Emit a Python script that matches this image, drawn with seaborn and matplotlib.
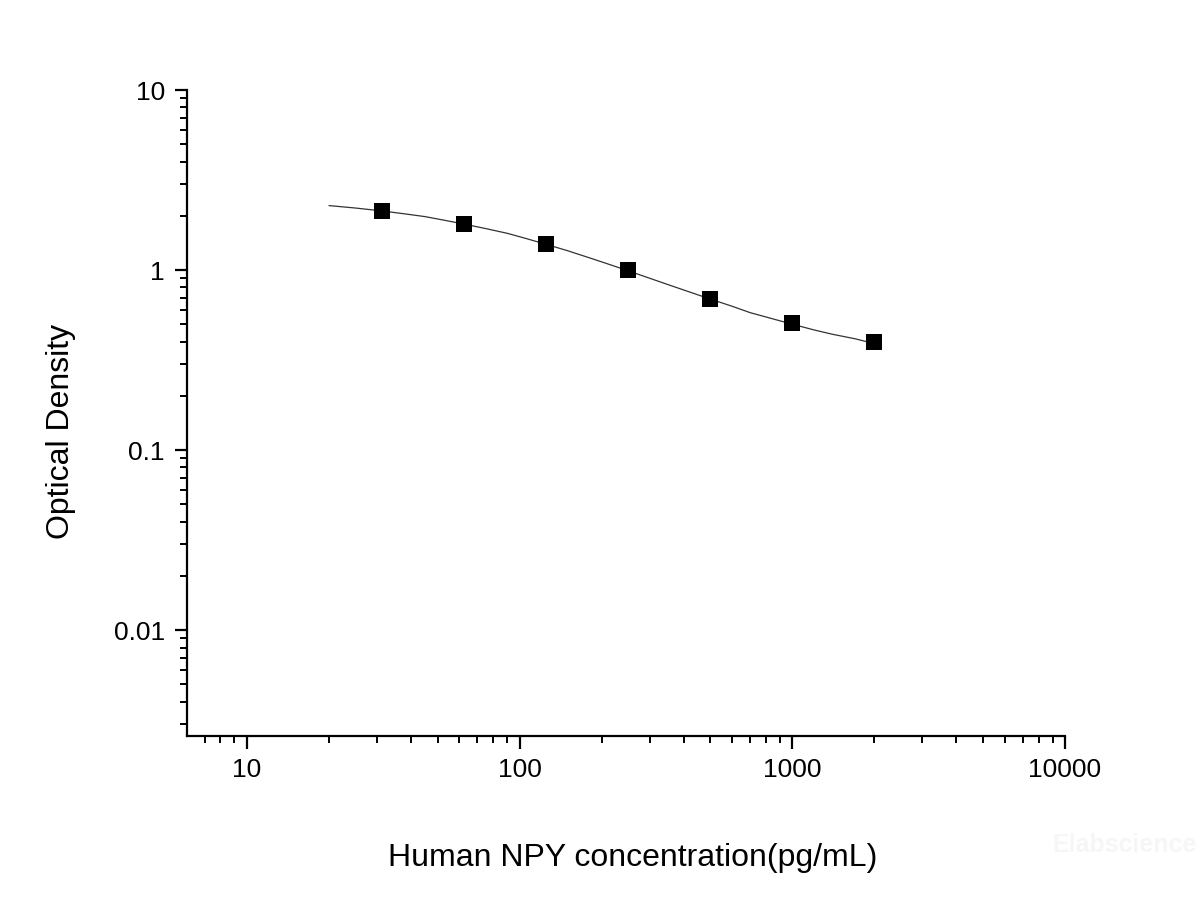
import matplotlib
matplotlib.use("Agg")
import matplotlib.pyplot as plt
import matplotlib.ticker as mticker
import seaborn as sns
import pandas as pd

# Standard points
conc = [31.25, 62.5, 125, 250, 500, 1000, 2000]
od = [2.13, 1.80, 1.39, 1.00, 0.69, 0.508, 0.398]

# Fitted curve
curve_x = [20, 25, 31.25, 38, 45, 53, 62.5, 75, 90, 105, 125, 150, 180, 215, 250,
           300, 350, 420, 500, 600, 700, 850, 1000, 1200, 1400, 1700, 2000]
curve_y = [2.28, 2.21, 2.13, 2.05, 1.98, 1.89, 1.80, 1.70, 1.60, 1.50, 1.39, 1.28,
           1.17, 1.07, 0.99, 0.90, 0.83, 0.755, 0.69, 0.63, 0.58, 0.535, 0.50,
           0.465, 0.44, 0.415, 0.39]

x_ticks = [10, 100, 1000, 10000]
x_tick_labels = ["10", "100", "1000", "10000"]
y_ticks = [0.01, 0.1, 1, 10]
y_tick_labels = ["0.01", "0.1", "1", "10"]

sns.set_theme(style="ticks")
plt.rcParams['font.family'] = ['Liberation Sans', 'DejaVu Sans']
plt.rcParams['text.color'] = 'black'
plt.rcParams['axes.labelcolor'] = 'black'

fig = plt.figure(figsize=(12, 9), dpi=100)
ax = fig.add_axes([187/1200, 1 - 736/900, (1065-187)/1200, (736-90)/900])

df_curve = pd.DataFrame({"x": curve_x, "y": curve_y})
df_pts = pd.DataFrame({"x": conc, "y": od})

sns.lineplot(data=df_curve, x="x", y="y", ax=ax, color="#333333", linewidth=0.9)
sns.scatterplot(data=df_pts, x="x", y="y", ax=ax, marker="s", s=135,
                color="black", edgecolor="none", zorder=3)

ax.set_xscale("log")
ax.set_yscale("log")
ax.set_xlim(6.03, 10000)
ax.set_ylim(0.00258, 10)

ax.xaxis.set_major_locator(mticker.FixedLocator(x_ticks))
ax.xaxis.set_major_formatter(mticker.FixedFormatter(x_tick_labels))
ax.yaxis.set_major_locator(mticker.FixedLocator(y_ticks))
ax.yaxis.set_major_formatter(mticker.FixedFormatter(y_tick_labels))
ax.xaxis.set_minor_locator(mticker.LogLocator(base=10, subs=range(2, 10), numticks=20))
ax.yaxis.set_minor_locator(mticker.LogLocator(base=10, subs=range(2, 10), numticks=20))
ax.xaxis.set_minor_formatter(mticker.NullFormatter())
ax.yaxis.set_minor_formatter(mticker.NullFormatter())

for s in ["top", "right"]:
    ax.spines[s].set_visible(False)
for s in ["left", "bottom"]:
    ax.spines[s].set_linewidth(1.6)
    ax.spines[s].set_color("black")

ax.tick_params(which="major", direction="out", length=9, width=1.6, colors="black",
               labelcolor="black", labelsize=19, pad=7)
ax.tick_params(which="minor", direction="out", length=5, width=1.4, colors="black")

ax.set_xlabel("Human NPY concentration(pg/mL)", fontsize=23, color="black")
ax.set_ylabel("Optical Density", fontsize=23, color="black")
ax.xaxis.set_label_coords((633 - 187) / 878, (736 - 843) / 646)
ax.yaxis.set_label_coords((76 - 187) / 878, (736 - 431) / 646)
ax.grid(False)

fig.text(1197/1200, 1 - 845/900, "Elabscience", fontsize=18, color="#f6f6f6",
         ha="right", va="center", fontweight="bold")

fig.savefig("out.png", dpi=100, facecolor="white")
